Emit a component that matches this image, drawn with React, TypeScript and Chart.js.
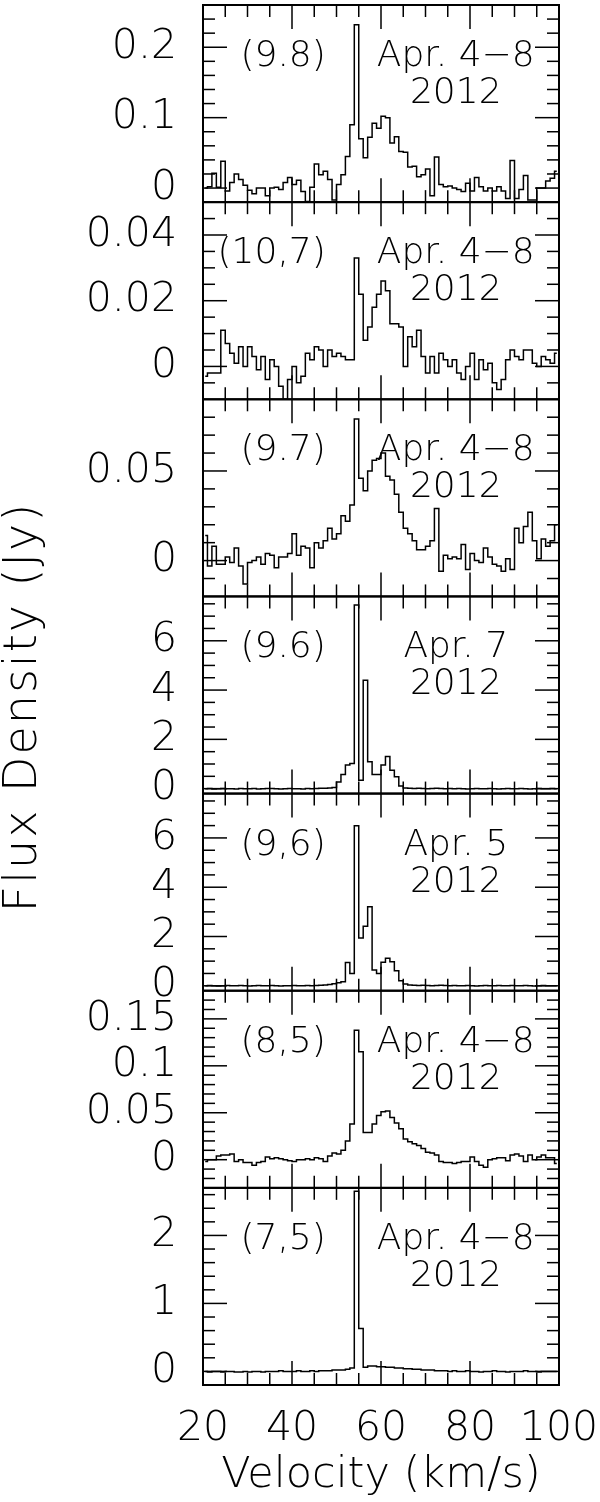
import React, { useEffect, useRef } from 'react';
import { Chart, registerables } from 'chart.js';

Chart.register(...registerables);

// ---- data ----
const VELOCITY = [
  20.5, 21.5, 22.5, 23.5, 24.5, 25.5, 26.5, 27.5, 28.5, 29.5,
  30.5, 31.5, 32.5, 33.5, 34.5, 35.5, 36.5, 37.5, 38.5, 39.5,
  40.5, 41.5, 42.5, 43.5, 44.5, 45.5, 46.5, 47.5, 48.5, 49.5,
  50.5, 51.5, 52.5, 53.5, 54.5, 55.5, 56.5, 57.5, 58.5, 59.5,
  60.5, 61.5, 62.5, 63.5, 64.5, 65.5, 66.5, 67.5, 68.5, 69.5,
  70.5, 71.5, 72.5, 73.5, 74.5, 75.5, 76.5, 77.5, 78.5, 79.5,
  80.5, 81.5, 82.5, 83.5, 84.5, 85.5, 86.5, 87.5, 88.5, 89.5,
  90.5, 91.5, 92.5, 93.5, 94.5, 95.5, 96.5, 97.5, 98.5, 99.5,
];

const FLUX_9_8 = [
  0.000, 0.002, 0.021, 0.001, 0.038, -0.004, 0.008, 0.020, 0.012, 0.004,
  -0.003, -0.008, 0.000, 0.000, -0.011, 0.000, 0.001, -0.002, 0.008, 0.015,
  0.005, 0.011, -0.005, -0.019, 0.001, 0.034, 0.019, 0.024, 0.012, -0.017,
  0.005, 0.019, 0.045, 0.090, 0.232, 0.070, 0.043, 0.072, 0.092, 0.085,
  0.102, 0.100, 0.064, 0.073, 0.052, 0.051, 0.030, 0.031, 0.016, 0.019,
  0.027, -0.011, 0.044, 0.005, 0.002, 0.003, 0.000, -0.002, -0.005, 0.007,
  -0.004, 0.015, 0.002, -0.004, 0.000, -0.004, 0.002, -0.004, -0.015, 0.039,
  -0.015, -0.002, 0.018, -0.017, -0.017, 0.000, 0.000, 0.010, 0.014, 0.024,
];

const FLUX_10_7 = [
  -0.003, -0.002, -0.002, -0.002, 0.011, 0.007, 0.004, 0.001, 0.006, 0.000,
  0.006, 0.003, -0.001, 0.003, -0.004, 0.002, 0.000, -0.006, -0.010, -0.004,
  0.000, -0.005, -0.003, 0.004, 0.002, 0.006, 0.005, 0.000, 0.005, 0.003,
  0.004, 0.003, 0.002, 0.002, 0.033, 0.022, 0.008, 0.012, 0.018, 0.022,
  0.026, 0.023, 0.013, 0.013, 0.012, 0.000, 0.009, 0.006, 0.011, 0.003,
  -0.002, 0.003, -0.002, 0.004, 0.002, 0.000, 0.002, -0.002, -0.004, 0.000,
  0.004, -0.004, 0.002, -0.001, 0.001, -0.005, -0.007, -0.004, 0.002, 0.005,
  0.003, 0.002, 0.005, 0.005, 0.001, 0.000, 0.003, 0.002, 0.001, 0.004,
];

const FLUX_9_7 = [
  0.014, -0.003, 0.008, -0.002, -0.002, 0.002, -0.001, 0.007, -0.003, -0.013,
  -0.001, 0.000, 0.002, -0.002, 0.004, 0.003, -0.004, 0.002, 0.002, 0.004,
  0.015, 0.003, 0.008, 0.007, -0.004, 0.010, 0.007, 0.011, 0.018, 0.012,
  0.015, 0.025, 0.022, 0.031, 0.079, 0.046, 0.039, 0.050, 0.056, 0.057,
  0.060, 0.047, 0.045, 0.037, 0.027, 0.018, 0.015, 0.011, 0.006, 0.006,
  0.008, 0.011, 0.029, -0.006, 0.003, 0.001, 0.002, 0.001, 0.009, -0.005,
  0.004, 0.000, -0.001, 0.007, 0.002, -0.002, -0.003, -0.006, 0.001, -0.005,
  0.018, 0.010, 0.019, 0.027, 0.011, 0.001, 0.012, 0.008, 0.011, 0.020,
];

const FLUX_9_6_APR7 = [
  0.00, 0.01, -0.01, 0.00, 0.01, 0.00, 0.00, -0.01, 0.01, 0.00,
  0.00, 0.01, -0.01, 0.00, 0.01, 0.01, 0.00, -0.01, 0.00, 0.01,
  0.00, 0.00, -0.01, 0.01, 0.00, 0.01, 0.02, 0.02, 0.03, 0.05,
  0.27, 0.57, 0.96, 1.02, 7.45, 0.34, 4.40, 1.09, 0.57, 0.57,
  0.96, 1.30, 0.75, 0.48, 0.11, 0.03, 0.02, 0.01, 0.02, 0.01,
  0.00, 0.01, 0.02, 0.01, 0.00, 0.01, 0.00, 0.01, 0.00, -0.01,
  0.00, 0.01, 0.00, 0.00, 0.01, 0.00, -0.01, 0.00, 0.01, 0.00,
  0.00, 0.01, 0.00, -0.01, 0.00, 0.01, 0.00, 0.00, 0.01, 0.00,
];

const FLUX_9_6_APR5 = [
  0.00, 0.01, 0.00, -0.01, 0.00, 0.01, 0.00, 0.00, 0.01, 0.00,
  -0.01, 0.00, 0.01, 0.00, 0.00, 0.01, 0.00, -0.01, 0.00, 0.00,
  0.01, 0.00, 0.00, 0.01, 0.00, 0.01, 0.02, 0.03, 0.05, 0.08,
  0.12, 0.16, 0.94, 0.50, 6.49, 1.94, 2.42, 3.21, 0.64, 0.50,
  0.96, 1.12, 0.98, 0.61, 0.20, 0.07, 0.03, 0.02, 0.01, 0.02,
  0.01, 0.00, 0.01, 0.02, 0.01, 0.00, 0.01, 0.00, 0.00, 0.01,
  0.00, -0.01, 0.00, 0.01, 0.00, 0.00, 0.01, 0.00, 0.00, 0.01,
  0.00, 0.00, 0.01, 0.00, -0.01, 0.00, 0.01, 0.00, 0.00, 0.00,
];

const FLUX_8_5 = [
  -0.002, 0.000, 0.000, 0.004, 0.005, 0.005, 0.006, -0.002, 0.000, -0.003,
  -0.003, -0.006, -0.003, -0.002, 0.003, 0.001, 0.002, 0.001, 0.000, -0.001,
  -0.002, 0.000, 0.000, 0.001, 0.000, 0.002, 0.001, -0.002, 0.004, 0.007,
  0.006, 0.010, 0.020, 0.038, 0.138, 0.115, 0.029, 0.029, 0.038, 0.047,
  0.051, 0.052, 0.045, 0.039, 0.033, 0.022, 0.019, 0.017, 0.015, 0.012,
  0.008, 0.007, 0.005, -0.002, -0.003, -0.003, -0.004, -0.003, -0.002, -0.002,
  0.003, -0.002, -0.006, -0.008, 0.000, 0.001, 0.002, 0.002, -0.001, 0.005,
  0.006, 0.004, -0.002, 0.005, 0.000, 0.003, 0.005, 0.002, 0.002, -0.004,
];

const FLUX_7_5 = [
  0.00, -0.01, 0.00, 0.00, -0.01, 0.00, 0.00, -0.01, -0.01, 0.00,
  -0.01, 0.00, 0.00, -0.01, 0.00, 0.00, 0.00, 0.01, 0.00, 0.00,
  0.00, 0.01, 0.00, 0.00, 0.01, 0.00, 0.01, 0.01, 0.01, 0.02,
  0.02, 0.02, 0.03, 0.05, 2.65, 0.63, 0.06, 0.08, 0.08, 0.07,
  0.07, 0.06, 0.06, 0.05, 0.05, 0.04, 0.04, 0.03, 0.03, 0.02,
  0.02, 0.02, 0.01, 0.01, 0.01, 0.00, 0.01, 0.00, 0.00, 0.01,
  0.00, 0.00, -0.01, 0.00, 0.00, 0.01, 0.00, 0.00, -0.01, 0.00,
  0.00, 0.00, 0.01, 0.00, 0.00, -0.01, 0.00, 0.00, 0.00, 0.00,
];

const PANEL_FLUX = [FLUX_9_8, FLUX_10_7, FLUX_9_7, FLUX_9_6_APR7, FLUX_9_6_APR5, FLUX_8_5, FLUX_7_5];
const PANEL_IDS = ['(9.8)', '(10,7)', '(9.7)', '(9.6)', '(9,6)', '(8,5)', '(7,5)'];
const PANEL_DATES = ['Apr. 4\u22128', 'Apr. 4\u22128', 'Apr. 4\u22128', 'Apr. 7', 'Apr. 5', 'Apr. 4\u22128', 'Apr. 4\u22128'];
const PANEL_YEAR = '2012';

const Y_MIN = [-0.02, -0.01, -0.02, -0.2, -0.2, -0.03, -0.2];
const Y_MAX = [0.26, 0.05, 0.09, 7.8, 7.8, 0.18, 2.7];
const Y_MAJOR_TICKS = [
  [0, 0.1, 0.2],
  [0, 0.02, 0.04],
  [0, 0.05],
  [0, 2, 4, 6],
  [0, 2, 4, 6],
  [0, 0.05, 0.1, 0.15],
  [0, 1, 2],
];
const Y_TICK_LABELS = [
  ['0', '0.1', '0.2'],
  ['0', '0.02', '0.04'],
  ['0', '0.05'],
  ['0', '2', '4', '6'],
  ['0', '2', '4', '6'],
  ['0', '0.05', '0.1', '0.15'],
  ['0', '1', '2'],
];
const Y_MINOR_STEP = [0.02, 0.005, 0.01, 0.5, 0.5, 0.01, 0.2];

const X_MIN = 20;
const X_MAX = 100;
const X_TICKS = [20, 40, 60, 80, 100];
const X_TICK_LABELS = ['20', '40', '60', '80', '100'];
const X_MINOR_STEP = 5;
const X_MAJOR_STEP = 20;

const X_TITLE = 'Velocity (km/s)';
const Y_TITLE = 'Flux Density (Jy)';

// ---- styling ----
const FONT = '"DejaVu Sans", sans-serif';
const WEIGHT = 200;
const MINOR_LEN = 12;
const MAJOR_LEN = 24;
const LABEL_X_VEL = 47.6; // right edge of id label (velocity units)
const DATE_X_VEL = 76.8;

const decorPlugin = {
  id: 'panelDecor',
  beforeDatasetDraw(chart: any, args: any) {
    const ys = chart.scales[args.meta.yAxisID];
    const ca = chart.chartArea;
    const ctx = chart.ctx;
    ctx.save();
    ctx.beginPath();
    ctx.rect(ca.left, ys.top, ca.right - ca.left, ys.bottom - ys.top);
    ctx.clip();
  },
  afterDatasetDraw(chart: any) {
    chart.ctx.restore();
  },
  afterDraw(chart: any) {
    const ctx = chart.ctx;
    const ca = chart.chartArea;
    const xs = chart.scales.x;
    ctx.save();
    ctx.strokeStyle = '#000';
    ctx.fillStyle = '#000';
    const seg = (x1: number, y1: number, x2: number, y2: number) => {
      ctx.beginPath();
      ctx.moveTo(x1, y1);
      ctx.lineTo(x2, y2);
      ctx.stroke();
    };
    PANEL_IDS.forEach((id, i) => {
      const ys = chart.scales['y' + i];
      const top = ys.top;
      const bottom = ys.bottom;
      const left = ca.left;
      const right = ca.right;
      ctx.lineWidth = 1.5;
      for (let v = X_MIN + X_MINOR_STEP; v < X_MAX; v += X_MINOR_STEP) {
        const px = xs.getPixelForValue(v);
        const len = v % X_MAJOR_STEP === 0 ? MAJOR_LEN : MINOR_LEN;
        seg(px, top, px, top + len);
        seg(px, bottom, px, bottom - len);
      }
      const step = Y_MINOR_STEP[i];
      const k0 = Math.ceil(Y_MIN[i] / step - 1e-6);
      const k1 = Math.floor(Y_MAX[i] / step + 1e-6);
      for (let k = k0; k <= k1; k++) {
        const v = k * step;
        const py = ys.getPixelForValue(v);
        if (py < top + 1 || py > bottom - 1) continue;
        const major = Y_MAJOR_TICKS[i].some((m) => Math.abs(m - v) < step * 0.01);
        const len = major ? MAJOR_LEN : MINOR_LEN;
        seg(left, py, left + len, py);
        seg(right, py, right - len, py);
      }
      ctx.lineWidth = 2;
      ctx.strokeRect(left, top, right - left, bottom - top);

      ctx.font = `${WEIGHT} 36px ${FONT}`;
      ctx.textBaseline = 'alphabetic';
      ctx.textAlign = 'right';
      ctx.fillText(id, xs.getPixelForValue(LABEL_X_VEL), top + 61);
      ctx.textAlign = 'center';
      ctx.fillText(PANEL_DATES[i], xs.getPixelForValue(DATE_X_VEL), top + 61);
      ctx.fillText(PANEL_YEAR, xs.getPixelForValue(DATE_X_VEL), top + 98);
    });
    ctx.save();
    ctx.translate(24, (ca.top + ca.bottom) / 2 + 12);
    ctx.rotate(-Math.PI / 2);
    ctx.font = `${WEIGHT} 46px ${FONT}`;
    try {
      (ctx as any).letterSpacing = '2px';
    } catch (e) {
      // ignore
    }
    ctx.textAlign = 'center';
    ctx.textBaseline = 'middle';
    ctx.fillText(Y_TITLE, 0, 0);
    ctx.restore();
    ctx.restore();
  },
};

export default function App() {
  const ref = useRef<HTMLCanvasElement | null>(null);
  useEffect(() => {
    document.body.style.margin = '0';
    const canvas = ref.current;
    if (!canvas) return;
    const scales: any = {
      x: {
        type: 'linear',
        position: 'bottom',
        min: X_MIN,
        max: X_MAX,
        afterBuildTicks: (s: any) => {
          s.ticks = X_TICKS.map((v) => ({ value: v }));
        },
        afterFit: (s: any) => {
          s.height = 117;
          s.paddingLeft = 0;
          s.paddingRight = 0;
          s.paddingTop = 0;
          s.paddingBottom = 0;
        },
        grid: { display: false, drawTicks: false },
        border: { display: false },
        ticks: {
          color: '#000',
          font: { family: FONT, size: 41, weight: WEIGHT },
          padding: 20,
          maxRotation: 0,
          autoSkip: false,
          callback: (_v: any, idx: number) => X_TICK_LABELS[idx],
        },
        title: {
          display: true,
          text: X_TITLE,
          color: '#000',
          font: { family: FONT, size: 43, weight: WEIGHT },
          padding: { top: 0, bottom: 0 },
        },
      },
    };
    PANEL_IDS.forEach((_id, i) => {
      scales['y' + i] = {
        type: 'linear',
        position: 'left',
        stack: 'panels',
        stackWeight: 1,
        weight: 10 - i,
        min: Y_MIN[i],
        max: Y_MAX[i],
        afterBuildTicks: (s: any) => {
          s.ticks = Y_MAJOR_TICKS[i].map((v) => ({ value: v }));
        },
        afterFit: (s: any) => {
          s.width = 203;
          s.paddingLeft = 0;
          s.paddingRight = 0;
          s.paddingTop = 0;
          s.paddingBottom = 0;
        },
        grid: { display: false, drawTicks: false },
        border: { display: false },
        ticks: {
          color: '#000',
          font: { family: FONT, size: 41, weight: WEIGHT },
          padding: 26,
          autoSkip: false,
          callback: (_v: any, idx: number) => Y_TICK_LABELS[i][idx],
        },
      };
    });
    const chart = new Chart(canvas, {
      type: 'line',
      data: {
        datasets: PANEL_FLUX.map((flux, i) => ({
          label: PANEL_IDS[i],
          data: VELOCITY.map((v, j) => ({ x: v, y: flux[j] })),
          xAxisID: 'x',
          yAxisID: 'y' + i,
          borderColor: '#000',
          borderWidth: 1.5,
          pointRadius: 0,
          stepped: 'middle',
          fill: false,
        })),
      },
      options: {
        animation: false,
        responsive: false,
        devicePixelRatio: 1,
        layout: { padding: { top: 5, right: 41, left: 0, bottom: 0 } },
        plugins: { legend: { display: false }, tooltip: { enabled: false } },
        scales,
      },
      plugins: [decorPlugin],
    } as any);
    return () => chart.destroy();
  }, []);
  return (
    <div style={{ width: 600, height: 1502, background: '#fff' }}>
      <canvas ref={ref} width={600} height={1502} style={{ display: 'block' }} />
    </div>
  );
}
